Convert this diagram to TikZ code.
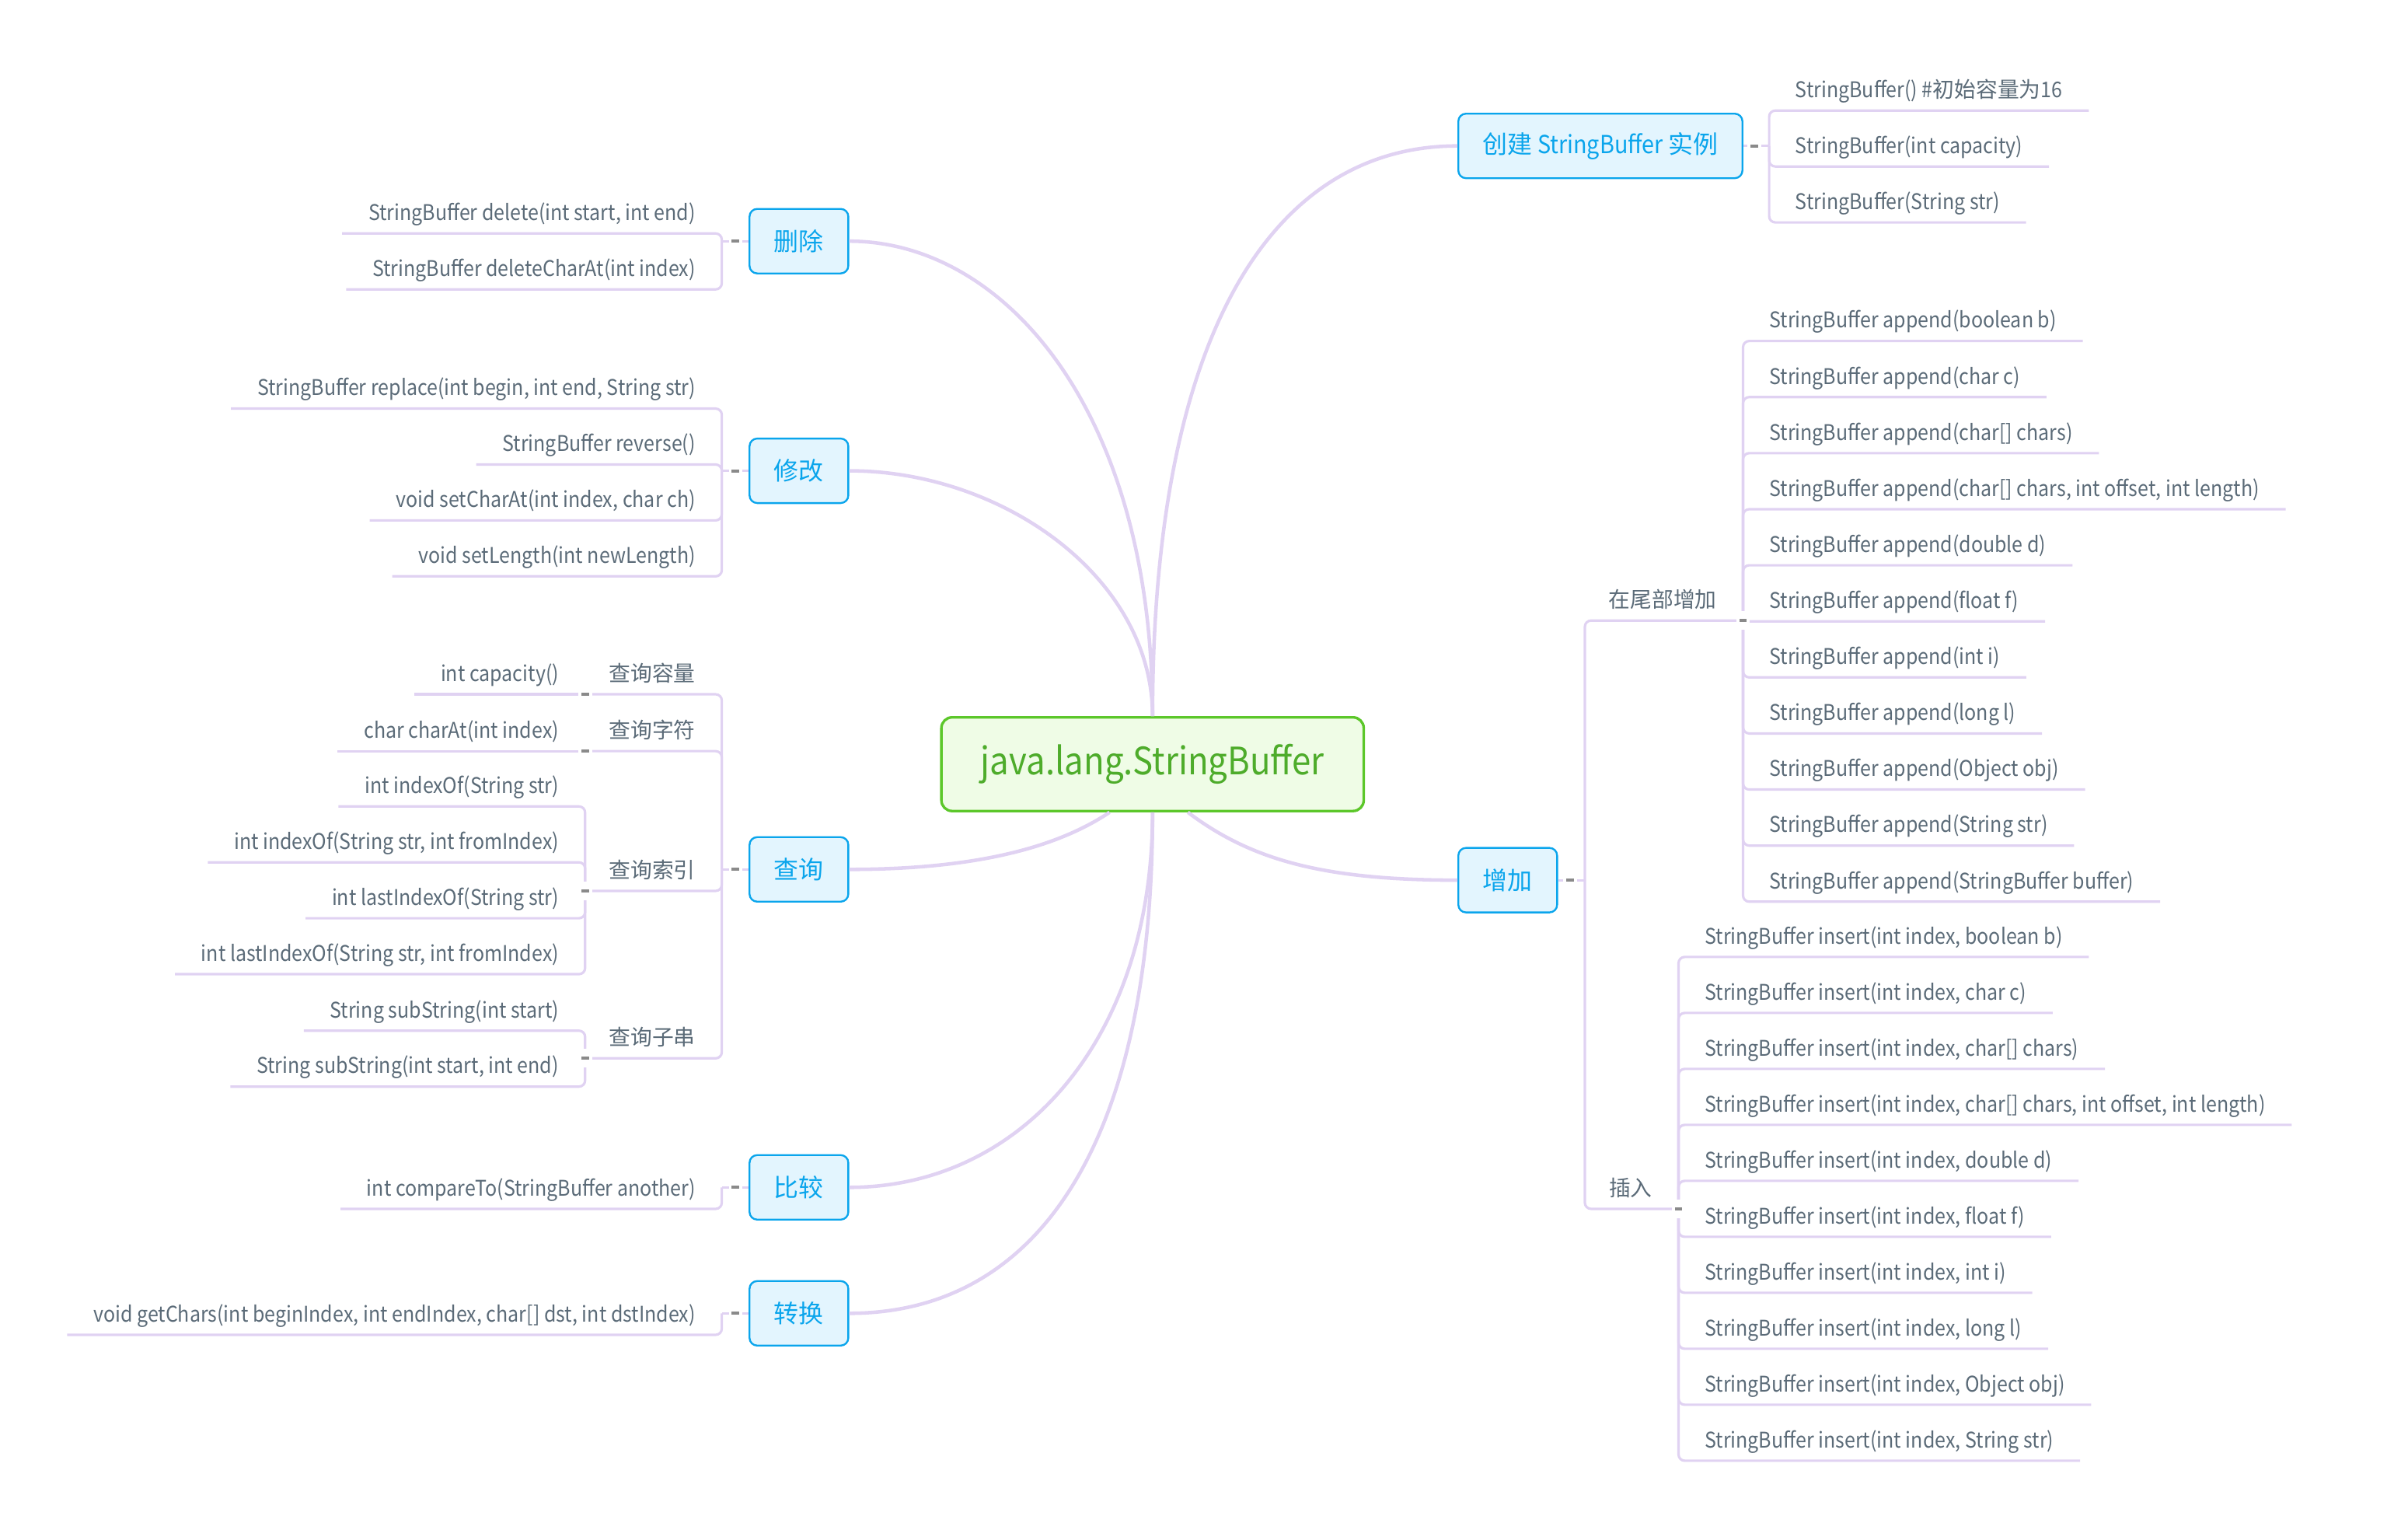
\documentclass[tikz,border=0pt]{standalone}
\usepackage{fontspec}
\setmainfont{Noto Sans CJK SC}[FakeStretch=0.9]
\newfontfamily\cjk{Noto Sans CJK SC}
\usepackage{xcolor}

\definecolor{linepurple}{HTML}{E0D2F2}
\definecolor{txtgray}{HTML}{5B6B78}
\definecolor{topicblue}{HTML}{0AA5EC}
\definecolor{topicfill}{HTML}{E3F5FE}
\definecolor{rootgreen}{HTML}{5CC72A}
\definecolor{rootfill}{HTML}{EFFCE6}
\definecolor{roottext}{HTML}{4EAC2B}
\definecolor{markgray}{HTML}{8A8A8A}

\begin{document}
\begin{tikzpicture}[
    x=0.5mm, y=-0.5mm,
    root/.style={draw=rootgreen, line width=0.85mm, fill=rootfill, rounded corners=3.5mm, text=roottext, font=\fontsize{35}{42}\selectfont, minimum height=30.5mm, minimum width=137.5mm},
    topic/.style={draw=topicblue, line width=0.6mm, fill=topicfill, rounded corners=2.5mm, text=topicblue, font=\fontsize{23}{28}\selectfont, minimum height=21mm, inner xsep=8mm},
    leaf/.style={text=txtgray, font=\fontsize{20}{24}\selectfont, inner xsep=8.5mm, inner ysep=2.75mm, text height=14pt, text depth=4pt},
    label/.style={leaf, font=\fontsize{20}{24}\selectfont\cjk},
    link/.style={draw=linepurple, line width=1.15mm},
    ul/.style={draw=linepurple, line width=0.8mm, rounded corners=2mm},
    fold/.style={fill=white, minimum width=4.5mm, minimum height=6mm, inner sep=0pt,
        path picture={\fill[markgray] ([xshift=-1.25mm, yshift=-0.5mm]path picture bounding box.center) rectangle ([xshift=1.25mm, yshift=0.5mm]path picture bounding box.center);}}
]
    \useasboundingbox (0,0) rectangle (1568,996);

    \node[root] (root) at (750.5,497.5) {java.lang.StringBuffer};
    \node[topic, anchor=east] (del) at (553,157) {\cjk 删除};
    \node[topic, anchor=east] (mod) at (553,306.5) {\cjk 修改};
    \node[topic, anchor=east] (qry) at (553,566) {\cjk 查询};
    \node[topic, anchor=east] (cmp) at (553,773) {\cjk 比较};
    \node[topic, anchor=east] (cvt) at (553,855) {\cjk 转换};
    \node[topic, anchor=west, minimum width=92.5mm] (new) at (949,95) {{\cjk 创建} StringBuffer {\cjk 实例}};
    \node[topic, anchor=west] (add) at (949,573) {\cjk 增加};

    % root to topics
    \draw[link] (root.north) .. controls +(0,-200) and +(100,0) .. (del.east);
    \draw[link] (root.north) .. controls +(0,-90) and +(100,0) .. (mod.east);
    \draw[link] (root.north) .. controls +(0,-250) and +(-120,0) .. (new.west);
    \draw[link] ([xshift=-14mm]root.south) .. controls +(-30,20) and +(90,0) .. (qry.east);
    \draw[link] ([xshift=11.5mm]root.south) .. controls +(40,30) and +(-90,0) .. (add.west);
    \draw[link] (root.south) .. controls +(0,150) and +(110,0) .. (cmp.east);
    \draw[link] (root.south) .. controls +(0,220) and +(120,0) .. (cvt.east);

    % junctions
    \coordinate (del-j) at (470,157);
    \coordinate (mod-j) at (470,306.5);
    \coordinate (qry-j) at (470,566);
    \coordinate (cmp-j) at (470,773);
    \coordinate (cvt-j) at (470,855);
    \coordinate (new-j) at (1152,95);
    \coordinate (add-j) at (1032,573);
    \foreach \n in {del,mod,qry,cmp,cvt} \draw[ul] (\n.west) -- (\n-j);
    \foreach \n in {new,add} \draw[ul] (\n.east) -- (\n-j);

    % delete
    \foreach \txt [count=\i] in {{StringBuffer delete(int start, int end)}, {StringBuffer deleteCharAt(int index)}} {
        \node[leaf, anchor=south east] (del\i) at (470,115.6+36.4*\i) {\txt};
        \draw[ul] (del-j) |- (del\i.south west);
    }

    % modify
    \foreach \txt [count=\i] in {{StringBuffer replace(int begin, int end, String str)}, {StringBuffer reverse()},
        {void setCharAt(int index, char ch)}, {void setLength(int newLength)}} {
        \node[leaf, anchor=south east] (mod\i) at (470,229.6+36.4*\i) {\txt};
        \draw[ul] (mod-j) |- (mod\i.south west);
    }

    % query
    \node[label, anchor=south east] (qs1) at (470,452) {查询容量};
    \node[label, anchor=south east] (qs2) at (470,489) {查询字符};
    \node[label, anchor=south east] (qs3) at (470,580) {查询索引};
    \node[label, anchor=south east] (qs4) at (470,689) {查询子串};
    \coordinate (qs1-j) at (381,452);
    \coordinate (qs2-j) at (381,489);
    \coordinate (qs3-j) at (381,580);
    \coordinate (qs4-j) at (381,689);
    \foreach \i in {1,...,4} \draw[ul] (qry-j) |- (qs\i-j);

    \node[leaf, anchor=south east] (cap1) at (qs1-j) {int capacity()};
    \draw[ul] (qs1-j) -- (cap1.south west);
    \node[leaf, anchor=south east] (chr1) at (qs2-j) {char charAt(int index)};
    \draw[ul] (qs2-j) -- (chr1.south west);
    \foreach \txt [count=\i] in {{int indexOf(String str)}, {int indexOf(String str, int fromIndex)},
        {int lastIndexOf(String str)}, {int lastIndexOf(String str, int fromIndex)}} {
        \node[leaf, anchor=south east] (idx\i) at (381,488.6+36.4*\i) {\txt};
        \draw[ul] (qs3-j) |- (idx\i.south west);
    }
    \foreach \txt [count=\i] in {{String subString(int start)}, {String subString(int start, int end)}} {
        \node[leaf, anchor=south east] (sub\i) at (381,634.6+36.4*\i) {\txt};
        \draw[ul] (qs4-j) |- (sub\i.south west);
    }

    % compare, convert
    \node[leaf, anchor=south east] (cmp1) at (470,787) {int compareTo(StringBuffer another)};
    \draw[ul] (cmp-j) |- (cmp1.south west);
    \node[leaf, anchor=south east] (cvt1) at (470,869) {void getChars(int beginIndex, int endIndex, char[] dst, int dstIndex)};
    \draw[ul] (cvt-j) |- (cvt1.south west);

    % create
    \foreach \txt [count=\i] in {{StringBuffer() \#{\cjk 初始容量为}16}, {StringBuffer(int capacity)}, {StringBuffer(String str)}} {
        \node[leaf, anchor=south west] (new\i) at (1152,35.6+36.4*\i) {\txt};
        \draw[ul] (new-j) |- (new\i.south east);
    }

    % add
    \node[label, anchor=south east] (tail) at (1135,404) {在尾部增加};
    \node[label, anchor=south east] (ins) at (1093,787) {插入};
    \coordinate (tail-j) at (1135,404);
    \coordinate (ins-j) at (1093,787);
    \draw[ul] (add-j) |- (tail-j);
    \draw[ul] (add-j) |- (ins-j);
    \foreach \txt [count=\i] in {{boolean b}, {char c}, {char[] chars}, {char[] chars, int offset, int length},
        {double d}, {float f}, {int i}, {long l}, {Object obj}, {String str}, {StringBuffer buffer}} {
        \node[leaf, anchor=south west] (app\i) at (1135,185.5+36.5*\i) {StringBuffer append(\txt)};
        \draw[ul] (tail-j) |- (app\i.south east);
    }
    \foreach \txt [count=\i] in {{boolean b}, {char c}, {char[] chars}, {char[] chars, int offset, int length},
        {double d}, {float f}, {int i}, {long l}, {Object obj}, {String str}} {
        \node[leaf, anchor=south west] (ins\i) at (1093,586.56+36.44*\i) {StringBuffer insert(int index, \txt)};
        \draw[ul] (ins-j) |- (ins\i.south east);
    }

    % fold marks
    \foreach \n in {del,mod,qry,cmp,cvt} \node[fold] (\n-m) at ([xshift=4.5mm]\n-j) {};
    \foreach \n in {new,add} \node[fold] (\n-m) at ([xshift=-4.75mm]\n-j) {};
    \foreach \n in {qs1,qs2,qs3,qs4,tail,ins} \node[fold] (\n-m) at (\n-j) {};
\end{tikzpicture}
\end{document}
